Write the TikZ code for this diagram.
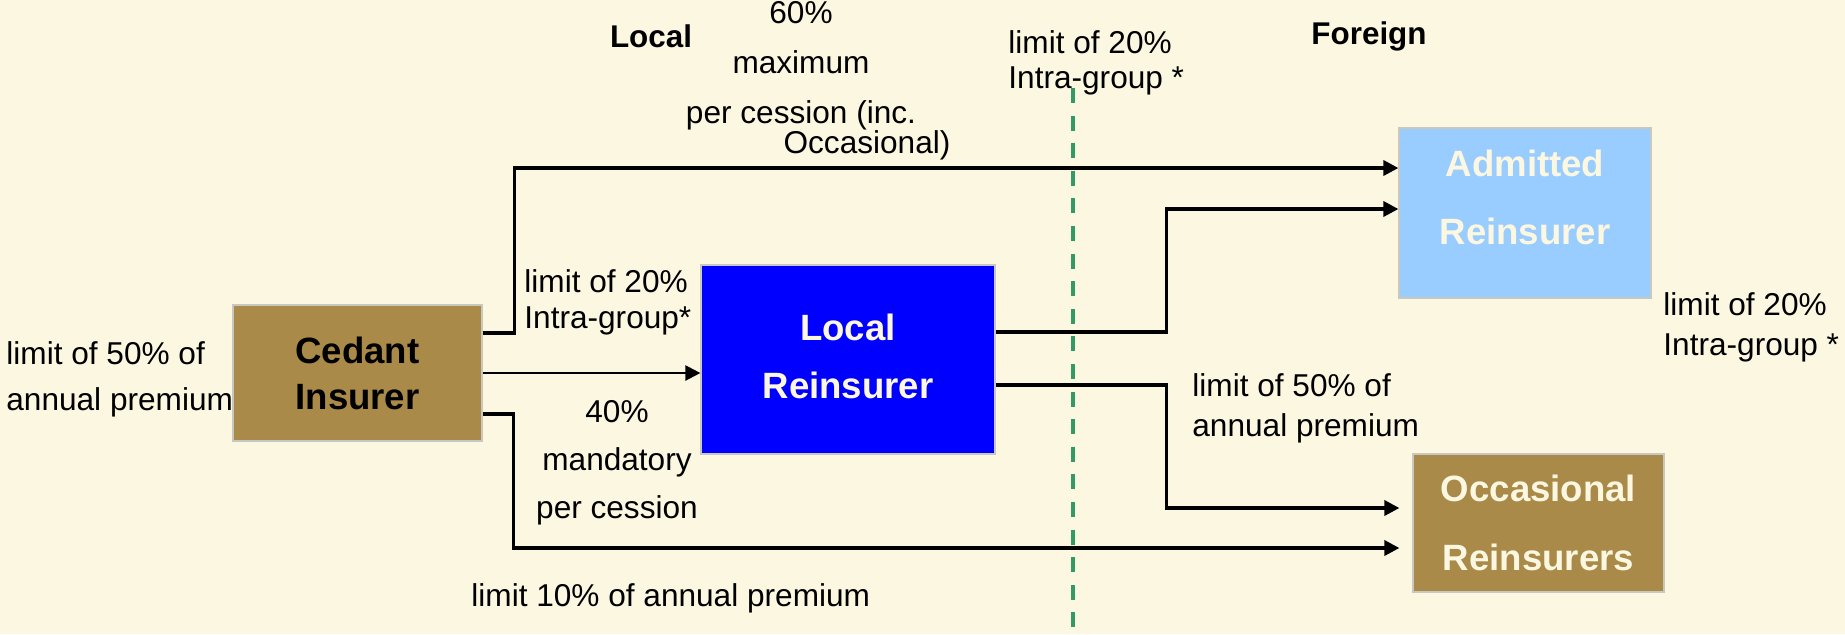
\documentclass[tikz,border=0pt]{standalone}
\usepackage{xcolor}
\usepackage{fontspec}
\setmainfont{Liberation Sans}
\usetikzlibrary{arrows.meta}

\definecolor{cream}{HTML}{FCF7E0}
\definecolor{bronze}{HTML}{AA8A48}
\definecolor{skyblue}{HTML}{99CCFF}
\definecolor{bordergrey}{HTML}{C8C8C0}
\definecolor{borderline}{HTML}{339966}

\tikzset{
    box/.style={draw=bordergrey, line width=0.6pt, inner sep=0pt, align=center},
    flow/.style={line width=1.7pt, -{Triangle[length=7.5pt,width=7.5pt]}},
    note/.style={inner sep=0pt, font=\fontsize{15.8}{18}\selectfont},
    side/.style={inner sep=0pt, font=\bfseries\fontsize{15.7}{18}\selectfont},
}

\begin{document}
\begin{tikzpicture}[x=0.5pt,y=-0.5pt]
    \fill[cream] (0,0) rectangle (1845,634);
    \useasboundingbox (0,0) rectangle (1845,634);

    % local / foreign border
    \draw[borderline, line width=2pt, dash pattern=on 7.5pt off 6.3pt] (1073,88) -- (1073,634);

    % boxes
    \node[box, fill=bronze, minimum width=124.5pt, minimum height=68pt,
          font=\bfseries\fontsize{18.3}{23}\selectfont] (cedant) at (357.5,373) {Cedant\\Insurer};
    \node[box, fill=blue, text=cream, minimum width=147pt, minimum height=94.5pt,
          font=\bfseries\fontsize{18.3}{29}\selectfont] (local) at (848,359.5) {Local\\Reinsurer\rule[-3pt]{0pt}{3pt}};
    \node[box, fill=skyblue, text=cream, minimum width=126pt, minimum height=85pt,
          font=\bfseries\fontsize{18.3}{34}\selectfont] (admitted) at (1525,213) {Admitted\\Reinsurer\rule[-16pt]{0pt}{16pt}};
    \node[box, fill=bronze, text=cream, minimum width=125.5pt, minimum height=69pt,
          font=\bfseries\fontsize{18.3}{34.5}\selectfont] (occasional) at (1538.5,523) {Occasional\\Reinsurers};

    % flows out of the cedant
    \draw[flow] ([yshift=20pt]cedant.east) -- ++(32,0) |- ([yshift=22.5pt]admitted.west);
    \draw[flow, line width=1.15pt] (cedant.east) -- (cedant.east -| local.west);
    \draw[flow] ([yshift=-20.5pt]cedant.east) -- ++(31,0) |- ([yshift=-12.5pt,xshift=-6.5pt]occasional.west);

    % flows out of the local reinsurer
    \draw[flow] ([yshift=13.75pt]local.east) -- ++(171,0) |- ([yshift=2pt]admitted.west);
    \draw[flow] ([yshift=-12.75pt]local.east) -- ++(171,0) |- ([yshift=7.5pt,xshift=-6.5pt]occasional.west);

    % headings
    \node[side] (localside) at (651,36) {Local};
    \node[side] (foreignside) at (1369,36) {Foreign};

    % limits
    \node[note, align=center, font=\fontsize{15.8}{25}\selectfont] (maxcap) at (801,66) {60\%\\maximum\\per cession (inc.};
    \node[note] (maxocc) at (867,145) {Occasional)};
    \node[note, anchor=west, align=left, font=\fontsize{15.8}{17.5}\selectfont] (grouptop) at (1008,63) {limit of 20\%\\Intra-group *};
    \node[note, anchor=west, align=left] (groupcedant) at (524,302) {limit of 20\%\\Intra-group*};
    \node[note, anchor=west, align=left, font=\fontsize{15.8}{23}\selectfont] (annualcedant) at (6,379) {limit of 50\% of\\annual premium};
    \node[note, align=center, font=\fontsize{15.8}{24}\selectfont] (mandatory) at (617,463) {40\%\\mandatory\\per cession};
    \node[note, anchor=west] (occlimit) at (471,598) {limit 10\% of annual premium};
    \node[note, anchor=west, align=left, font=\fontsize{15.8}{20}\selectfont] (annuallocal) at (1192,408) {limit of 50\% of\\annual premium};
    \node[note, anchor=west, align=left, font=\fontsize{15.8}{20}\selectfont] (groupforeign) at (1663,327) {limit of 20\%\\Intra-group *};
\end{tikzpicture}
\end{document}
